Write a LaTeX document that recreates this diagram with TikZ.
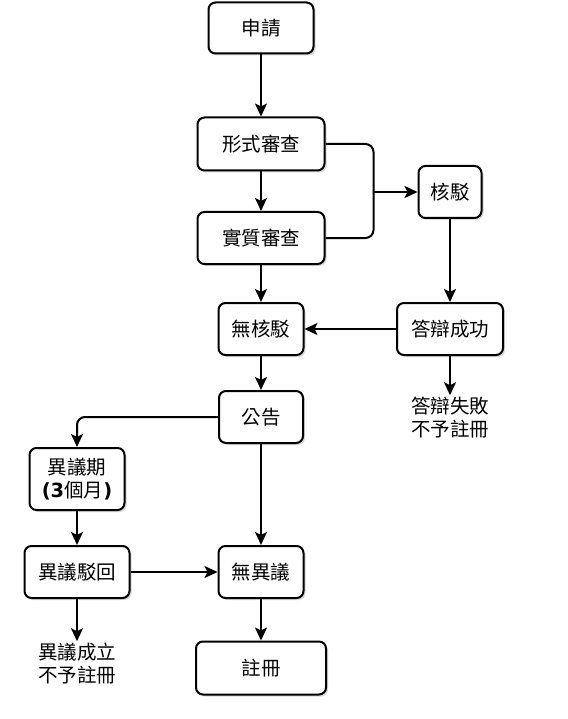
\documentclass[tikz,border=0pt]{standalone}
\usepackage{fontspec}
\setmainfont{Noto Sans CJK TC}
\newfontfamily\numfont{DejaVu Sans}
\usetikzlibrary{shapes,arrows.meta,positioning,shadows}
\newcommand{\num}[1]{{\numfont\bfseries #1}}

\begin{document}
\begin{tikzpicture}[x=1pt, y=1pt,
	font=\fontsize{19.5}{23}\selectfont,
	box/.style={draw, line width=2pt, rounded corners=7pt, fill=white, align=center, inner sep=0pt,
		drop shadow={shadow xshift=2pt, shadow yshift=-2pt, opacity=0.3}},
	txt/.style={align=center, inner sep=2pt},
	arr/.style={line width=2pt, -{Stealth[length=13pt, width=12pt, inset=3pt]}},
	link/.style={line width=2pt, rounded corners=8pt}]
	\useasboundingbox (0,0) rectangle (567,-719);

	\node[box, minimum width=105pt, minimum height=51pt] (apply) at (261,-28) {申請};
	\node[box, minimum width=127pt, minimum height=53pt, node distance=116pt, below of=apply] (formal) {形式審查};
	\node[box, minimum width=127pt, minimum height=52pt, node distance=94pt, below of=formal] (subst) {實質審查};
	\node[box, minimum width=85pt, minimum height=52pt, node distance=91pt, below of=subst] (norej) {無核駁};
	\node[box, minimum width=84pt, minimum height=52pt, node distance=88pt, below of=norej] (publish) {公告};
	\node[box, minimum width=85pt, minimum height=52pt, node distance=155pt, below of=publish] (noopp) {無異議};
	\node[box, minimum width=130pt, minimum height=53pt, node distance=96pt, below of=noopp] (register) {註冊};

	\node[box, minimum width=106pt, minimum height=52pt, node distance=189pt, right of=norej] (defok) {答辯成功};
	\node[box, minimum width=63pt, minimum height=52pt, node distance=137pt, above of=defok] (reject) {核駁};
	\node[txt, node distance=89pt, below of=defok] (deffail) {答辯失敗\\不予註冊};

	\node[box, minimum width=95pt, minimum height=62pt, node distance=62pt, below of=publish, xshift=-184pt] (period) {異議期\\\num{(3}個月\num{)}};
	\node[box, minimum width=105pt, minimum height=52pt, node distance=93pt, below of=period] (dismiss) {異議駁回};
	\node[txt, node distance=92pt, below of=dismiss] (oppok) {異議成立\\不予註冊};

	\coordinate[left=44pt of reject.west] (join);

	\draw[arr] (apply) -- (formal);
	\draw[arr] (formal) -- (subst);
	\draw[link] (formal.east) -| (join) |- (subst.east);
	\draw[arr] (join) -- (reject);
	\draw[arr] (reject) -- (defok);
	\draw[arr] (defok) -- (norej);
	\draw[arr] (defok) -- (deffail);
	\draw[arr] (subst) -- (norej);
	\draw[arr] (norej) -- (publish);

	\draw[arr, link] (publish.west) -| (period.north);
	\draw[arr] (publish) -- (noopp);
	\draw[arr] (period) -- (dismiss);
	\draw[arr] (dismiss) -- (noopp);
	\draw[arr] (dismiss) -- (oppok);
	\draw[arr] (noopp) -- (register);
\end{tikzpicture}
\end{document}
